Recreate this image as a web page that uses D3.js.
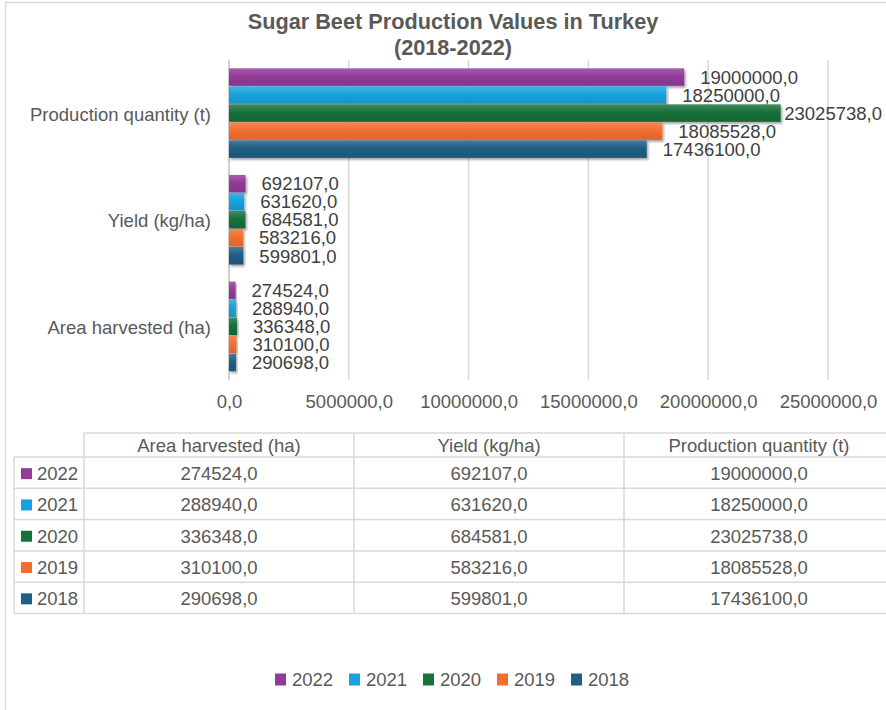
<!DOCTYPE html>
<html>
<head>
<meta charset="utf-8">
<script src="https://cdn.jsdelivr.net/npm/d3@7"></script>
<style>
  body { margin: 0; background: #fff; }
  text { font-family: "Liberation Sans", Arial, sans-serif; }
</style>
</head>
<body>
<div id="chart"></div>
<script>
// donnees
const years = ["2022", "2021", "2020", "2019", "2018"];
const categories = ["Production quantity (t)", "Yield (kg/ha)", "Area harvested (ha)"];
const productionQuantity = [19000000, 18250000, 23025738, 18085528, 17436100];
const yieldKgHa = [692107, 631620, 684581, 583216, 599801];
const areaHarvested = [274524, 288940, 336348, 310100, 290698];
const xTickValues = [0, 5000000, 10000000, 15000000, 20000000, 25000000];
const tableColumns = ["Area harvested (ha)", "Yield (kg/ha)", "Production quantity (t)"];

const seriesByCategory = {
  "Production quantity (t)": productionQuantity,
  "Yield (kg/ha)": yieldKgHa,
  "Area harvested (ha)": areaHarvested,
};

// couleurs par annee
const color = d3.scaleOrdinal()
  .domain(years)
  .range(["#923b98", "#17a2de", "#18703a", "#f26e30", "#205e85"]);

const width = 886, height = 710;
const textGray = "#595959";
const lineGray = "#d9d9d9";

// format "19000000,0"
const fmt = (v) => d3.format(".1f")(v).replace(".", ",");

const svg = d3.select("#chart").append("svg")
  .attr("width", width)
  .attr("height", height);

// cadre du graphique (gauche + haut)
svg.append("path")
  .attr("d", "M5.5,710 L5.5,2.5 L886,2.5")
  .attr("fill", "none")
  .attr("stroke", lineGray)
  .attr("stroke-width", 1.5);

// degrades + ombre
const defs = svg.append("defs");
years.forEach((y) => {
  const c = color(y);
  const g = defs.append("linearGradient")
    .attr("id", "grad" + y)
    .attr("x1", 0).attr("y1", 0).attr("x2", 0).attr("y2", 1);
  g.append("stop").attr("offset", "0%").attr("stop-color", d3.interpolateRgb(c, "#fff")(0.18));
  g.append("stop").attr("offset", "45%").attr("stop-color", c);
  g.append("stop").attr("offset", "100%").attr("stop-color", d3.color(c).darker(0.25));
});
defs.append("filter")
  .attr("id", "shadow")
  .attr("x", "-10%").attr("y", "-30%").attr("width", "130%").attr("height", "180%")
  .append("feDropShadow")
  .attr("dx", 1.5).attr("dy", 2)
  .attr("stdDeviation", 1.2)
  .attr("flood-color", "#000")
  .attr("flood-opacity", 0.35);

// titre
svg.append("text")
  .attr("x", 453).attr("y", 29)
  .attr("text-anchor", "middle")
  .attr("font-size", 21.7).attr("font-weight", "bold")
  .attr("fill", textGray)
  .text("Sugar Beet Production Values in Turkey");
svg.append("text")
  .attr("x", 453).attr("y", 55)
  .attr("text-anchor", "middle")
  .attr("font-size", 21.7).attr("font-weight", "bold")
  .attr("fill", textGray)
  .text("(2018-2022)");

// echelles
const x = d3.scaleLinear().domain([0, 25000000]).range([229, 828]);
const y0 = d3.scaleBand().domain(categories).range([60, 380]);
const y1 = d3.scaleBand().domain(years).range([0, y0.bandwidth()]).paddingOuter(0.46);

// grille verticale
svg.append("g")
  .selectAll("line")
  .data(xTickValues.slice(1))
  .enter()
  .append("line")
  .attr("x1", (d) => x(d)).attr("x2", (d) => x(d))
  .attr("y1", 60).attr("y2", 380)
  .attr("stroke", lineGray)
  .attr("stroke-width", 1.5);

// axe x (libelles seulement)
const xAxis = svg.append("g")
  .attr("transform", "translate(0,392)")
  .call(d3.axisBottom(x).tickValues(xTickValues).tickFormat(fmt).tickSize(0));
xAxis.select(".domain").remove();
xAxis.selectAll("text")
  .attr("font-size", 18.5)
  .attr("fill", textGray)
  .attr("font-family", "Liberation Sans, Arial, sans-serif");

// axe des categories
svg.append("line")
  .attr("x1", 229).attr("x2", 229)
  .attr("y1", 60).attr("y2", 380)
  .attr("stroke", "#bfbfbf")
  .attr("stroke-width", 1.5);

svg.append("g")
  .selectAll("text")
  .data(categories)
  .enter()
  .append("text")
  .attr("x", 211)
  .attr("y", (d) => y0(d) + y0.bandwidth() / 2 + 1)
  .attr("dy", "0.35em")
  .attr("text-anchor", "end")
  .attr("font-size", 18.5)
  .attr("fill", textGray)
  .text((d) => d);

// barres
const groups = svg.append("g")
  .selectAll("g")
  .data(categories)
  .enter()
  .append("g")
  .attr("transform", (d) => "translate(0," + y0(d) + ")");

const bars = groups.selectAll("g")
  .data((cat) => years.map((yr, i) => ({ cat: cat, year: yr, value: seriesByCategory[cat][i] })))
  .enter()
  .append("g");

bars.append("rect")
  .attr("x", x(0))
  .attr("y", (d) => y1(d.year))
  .attr("width", (d) => x(d.value) - x(0))
  .attr("height", y1.bandwidth() - 0.5)
  .attr("fill", (d) => "url(#grad" + d.year + ")")
  .attr("filter", "url(#shadow)");

// etiquettes de valeur (recalees si elles sortent du cadre)
bars.append("text")
  .attr("y", (d) => y1(d.year) + y1.bandwidth() / 2)
  .attr("dy", "0.35em")
  .attr("font-size", 18.5)
  .attr("fill", "#404040")
  .text((d) => fmt(d.value))
  .attr("x", function (d) {
    const w = this.getComputedTextLength();
    return Math.min(x(d.value) + 16, 882 - w);
  });

// tableau de donnees
const tLeft = 14, tKey = 84, colW = 270, headTop = 433, headH = 24, rowH = 31.3;
const tb = svg.append("g");
const rowsTop = headTop + headH;
const tBottom = rowsTop + rowH * years.length;

// lignes horizontales
tb.append("line")
  .attr("x1", tKey).attr("x2", width).attr("y1", headTop).attr("y2", headTop)
  .attr("stroke", lineGray).attr("stroke-width", 1.5);
tb.selectAll(".hline")
  .data(d3.range(years.length + 1))
  .enter()
  .append("line")
  .attr("x1", tLeft).attr("x2", width)
  .attr("y1", (i) => rowsTop + i * rowH).attr("y2", (i) => rowsTop + i * rowH)
  .attr("stroke", lineGray).attr("stroke-width", 1.5);
// lignes verticales
tb.append("line")
  .attr("x1", tLeft).attr("x2", tLeft).attr("y1", rowsTop).attr("y2", tBottom)
  .attr("stroke", lineGray).attr("stroke-width", 1.5);
tb.selectAll(".vline")
  .data(d3.range(tableColumns.length + 1))
  .enter()
  .append("line")
  .attr("x1", (i) => tKey + i * colW).attr("x2", (i) => tKey + i * colW)
  .attr("y1", headTop).attr("y2", tBottom)
  .attr("stroke", lineGray).attr("stroke-width", 1.5);

// entetes
tb.selectAll(".head")
  .data(tableColumns)
  .enter()
  .append("text")
  .attr("x", (d, i) => tKey + i * colW + colW / 2)
  .attr("y", headTop + headH / 2 + 1)
  .attr("dy", "0.35em")
  .attr("text-anchor", "middle")
  .attr("font-size", 18.5)
  .attr("fill", textGray)
  .text((d) => d);

// lignes du tableau
const tableSeries = [areaHarvested, yieldKgHa, productionQuantity];
years.forEach((yr, r) => {
  const cy = rowsTop + r * rowH + rowH / 2 + 1;
  tb.append("rect")
    .attr("x", 21).attr("y", cy - 5.5)
    .attr("width", 11).attr("height", 11)
    .attr("fill", color(yr));
  tb.append("text")
    .attr("x", 37).attr("y", cy).attr("dy", "0.35em")
    .attr("font-size", 18.5).attr("fill", textGray)
    .text(yr);
  tableSeries.forEach((s, c) => {
    tb.append("text")
      .attr("x", tKey + c * colW + colW / 2)
      .attr("y", cy).attr("dy", "0.35em")
      .attr("text-anchor", "middle")
      .attr("font-size", 18.5).attr("fill", textGray)
      .text(fmt(s[r]));
  });
});

// legende
const legend = svg.append("g")
  .selectAll("g")
  .data(years)
  .enter()
  .append("g")
  .attr("transform", (d, i) => "translate(" + (275 + i * 74) + ",680)");
legend.append("rect")
  .attr("x", 0).attr("y", -6.5)
  .attr("width", 11).attr("height", 12)
  .attr("fill", (d) => color(d));
legend.append("text")
  .attr("x", 17).attr("dy", "0.35em")
  .attr("font-size", 18.5).attr("fill", textGray)
  .text((d) => d);
</script>
</body>
</html>
